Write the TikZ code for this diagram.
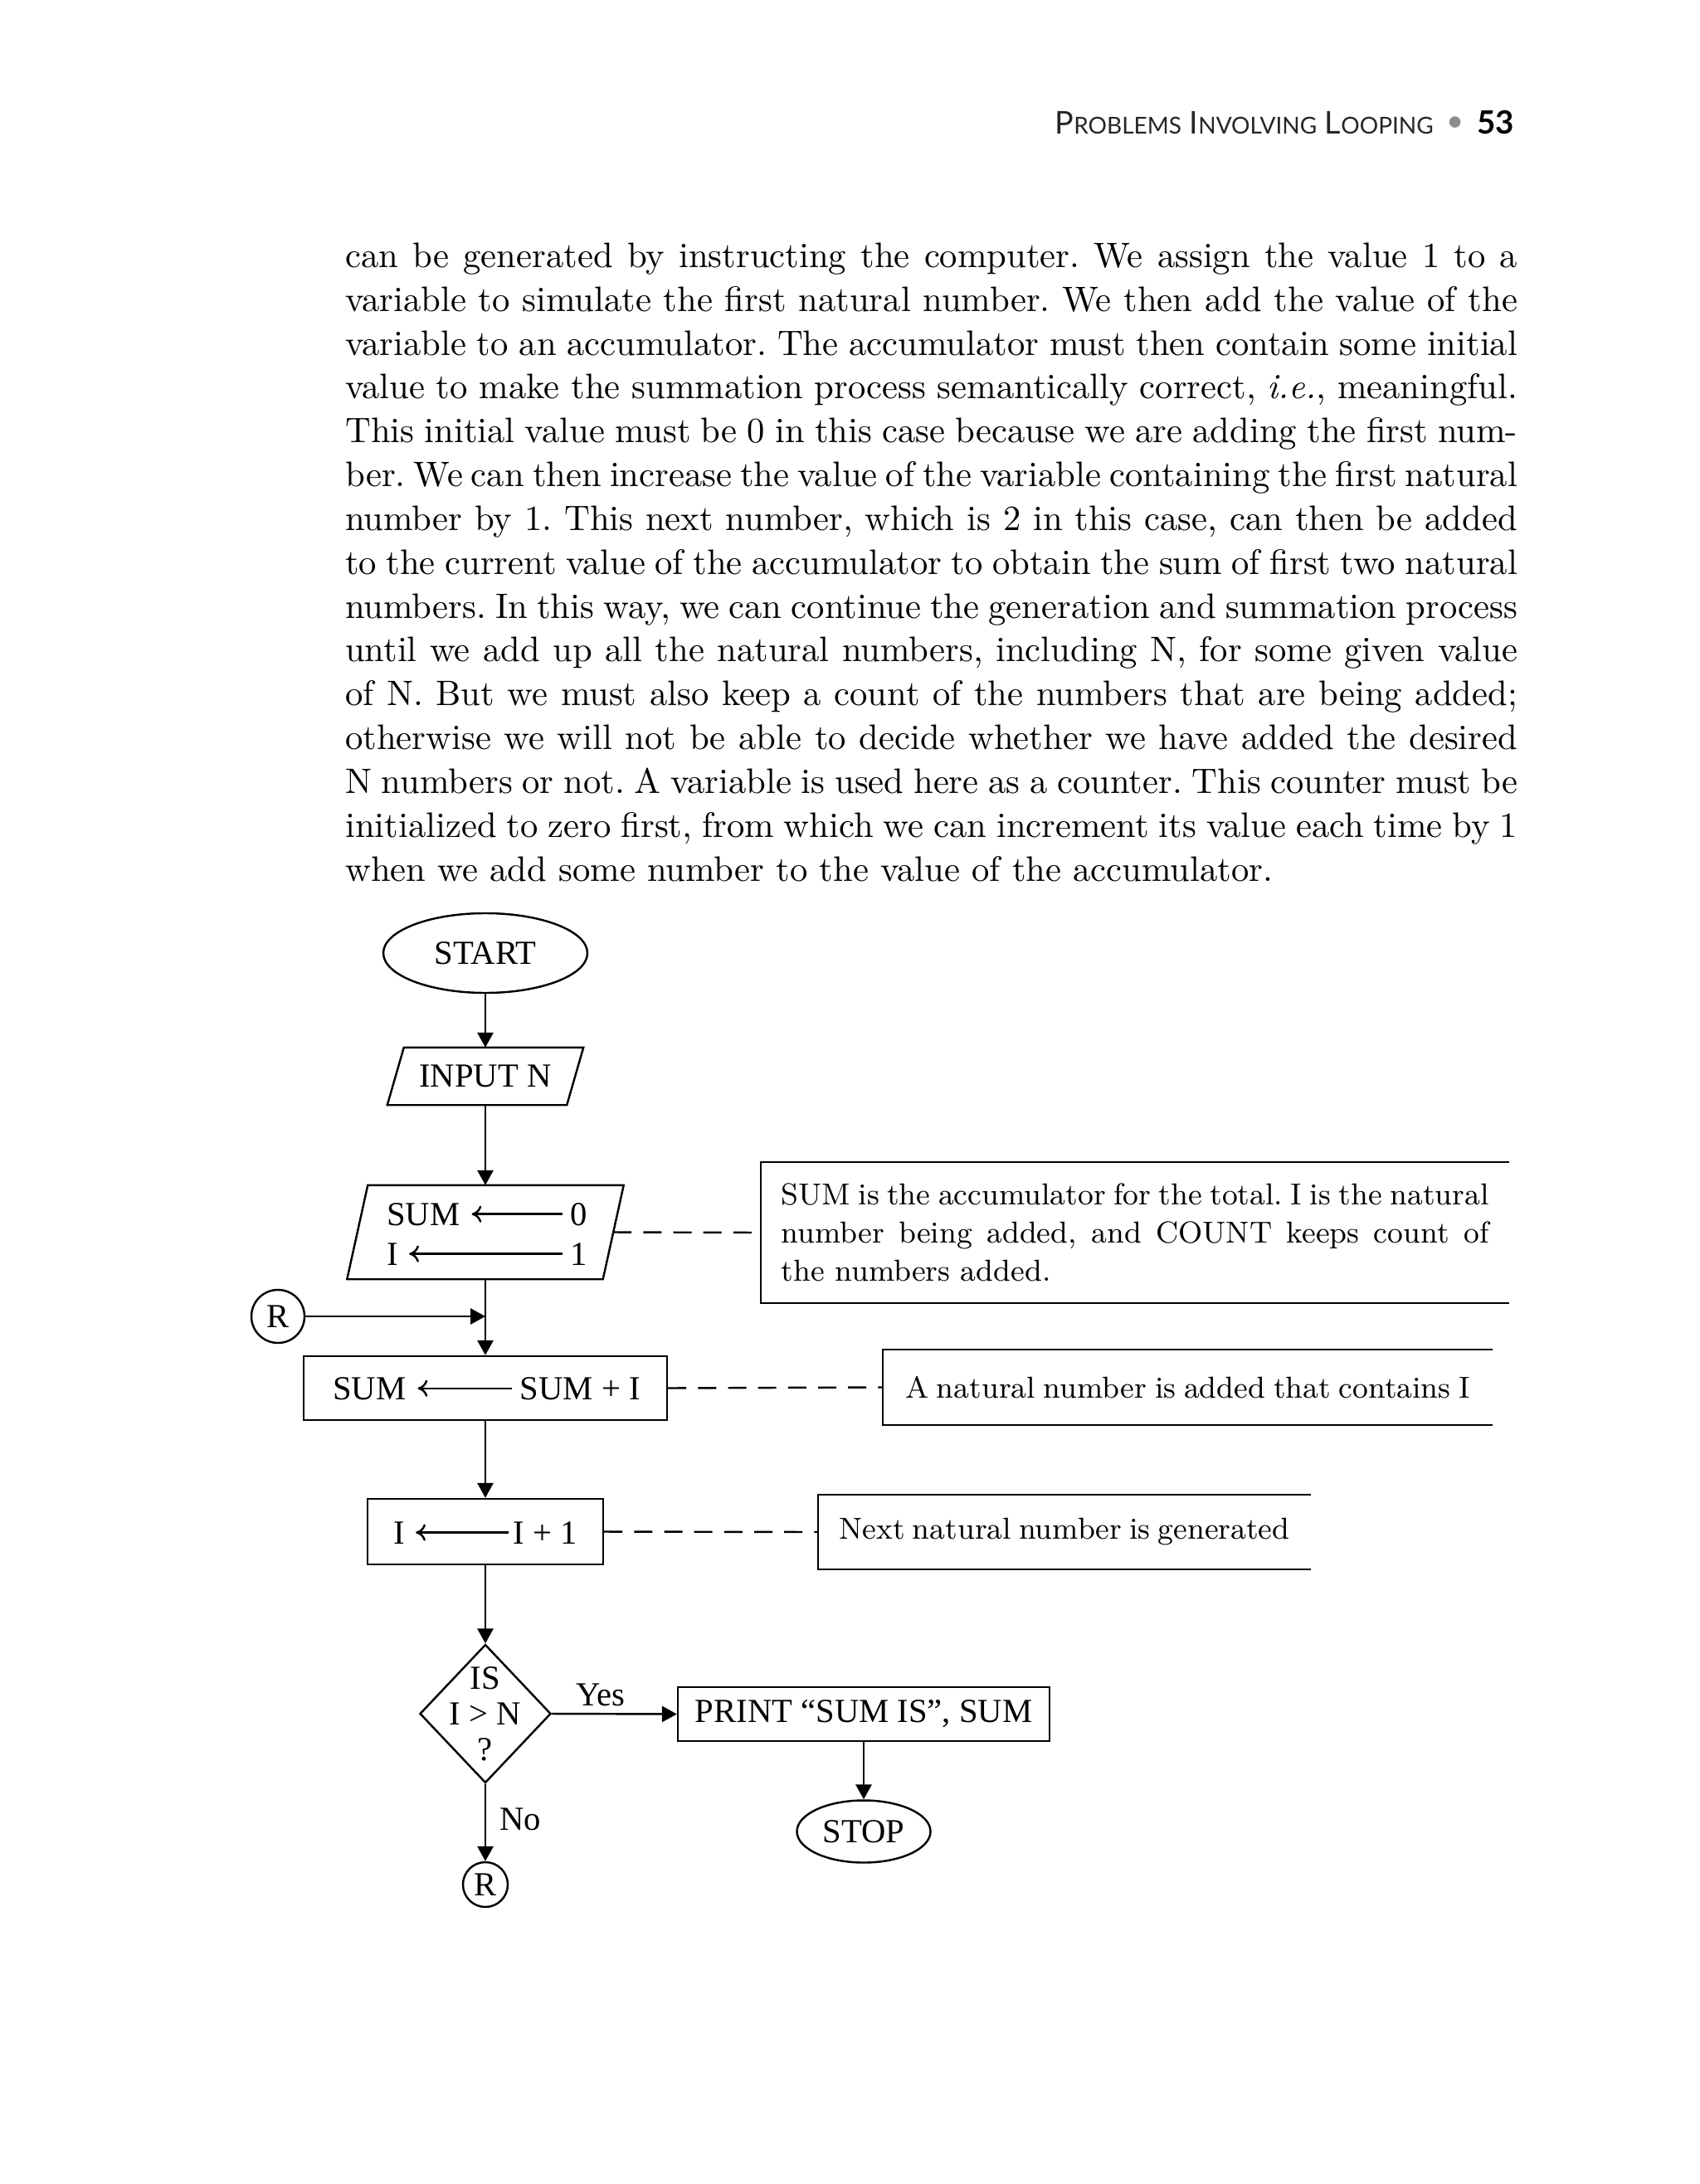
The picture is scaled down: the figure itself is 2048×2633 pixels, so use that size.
\documentclass[tikz,border=0pt]{standalone}
\usepackage{fontspec}
\newfontfamily\fcfont{Liberation Serif}
\newfontfamily\hdfont{Lato}
\usetikzlibrary{arrows.meta,shapes.geometric,calc}
\newcommand\jline[1]{\hbox to\hsize{#1}}
\newcommand\lline[1]{\hbox{#1}}
\def\pxu{0.24609pt}
\frenchspacing
\begin{document}
\begin{tikzpicture}[x=0.24609pt,y=-0.24609pt,line width=0.6pt,
  fc/.style={font=\fcfont\fontsize{10}{12}\selectfont},
  txt/.style={fc,inner sep=0},
  arr/.style={-{Triangle[length=4.4pt,width=4.7pt]}},
  sarr/.style={-{Computer Modern Rightarrow[length=2.9pt,width=5pt]}},
  dsh/.style={dash pattern=on 5.4pt off 3.5pt},
  term/.style={ellipse,draw,inner sep=0,fc},
  proc/.style={rectangle,draw,inner sep=0,fc},
  conn/.style={circle,draw,inner sep=0,fc},
  annot/.style={rectangle,inner sep=0,font=\fontsize{9}{11.3}\selectfont}]
\useasboundingbox (0,0) rectangle (2048,2633);
\fill[white] (0,0) rectangle (2048,2633);

% header
\node[anchor=base east,inner sep=0,text=black!85,font=\hdfont\fontsize{9.3}{11}\selectfont] (hdr) at (1729,162)
  {P{\fontsize{6.9}{8}\selectfont ROBLEMS} I{\fontsize{6.9}{8}\selectfont NVOLVING} L{\fontsize{6.9}{8}\selectfont OOPING}};
\node[inner sep=0,text=black!45,font=\hdfont\fontsize{9}{12}\selectfont] (bul) at (1754,150) {•};
\node[anchor=base east,inner sep=0,font=\hdfont\bfseries\fontsize{9.5}{12}\selectfont] (pg) at (1826,162) {53};

% body text
\node[anchor=base west,inner sep=0,font=\fontsize{10.5}{13}\selectfont] (body) at (415,1062) {\vbox{\hsize=347.7pt\baselineskip=13pt
\jline{can be generated by instructing the computer. We assign the value 1 to a}
\jline{variable to simulate the first natural number. We then add the value of the}
\jline{variable to an accumulator. The accumulator must then contain some initial}
\jline{value to make the summation process semantically correct, \textit{i.e.}, meaningful.}
\jline{This initial value must be 0 in this case because we are adding the first num-}
\jline{ber. We can then increase the value of the variable containing the first natural}
\jline{number by 1. This next number, which is 2 in this case, can then be added}
\jline{to the current value of the accumulator to obtain the sum of first two natural}
\jline{numbers. In this way, we can continue the generation and summation process}
\jline{until we add up all the natural numbers, including N, for some given value}
\jline{of N. But we must also keep a count of the numbers that are being added;}
\jline{otherwise we will not be able to decide whether we have added the desired}
\jline{N numbers or not. A variable is used here as a counter. This counter must be}
\jline{initialized to zero first, from which we can increment its value each time by 1}
\lline{when we add some number to the value of the accumulator.}}};

% flowchart
\node[term,minimum width={246*\pxu},minimum height={96*\pxu}] (start) at (585,1149) {START};

\node[txt,minimum width={234*\pxu},minimum height={67*\pxu}] (input) at (585,1297.5) {INPUT N};
\draw ($(input.north west)+(20,0)$) -- (input.north east) -- ($(input.south east)-(20,0)$) -- (input.south west) -- cycle;

\node[inner sep=0,minimum width={331*\pxu},minimum height={111*\pxu}] (init) at (585,1485.5) {};
\draw ($(init.north west)+(25,0)$) -- (init.north east) -- ($(init.south east)-(25,0)$) -- (init.south west) -- cycle;
\node[txt,anchor=base west] (s0) at (465,1477) {SUM};
\node[txt,anchor=base east] (v0) at (709,1477) {0};
\node[txt,anchor=base west] (s1) at (465,1525) {I};
\node[txt,anchor=base east] (v1) at (709,1525) {1};
\draw[sarr,shorten <=2pt,shorten >=3.2pt] (v0.west) -- (s0.east |- v0.west);
\draw[sarr,shorten <=2pt,shorten >=3pt] (v1.west) -- (s1.east |- v1.west);

\node[conn,minimum size={64*\pxu}] (rl) at (335,1587) {R};
\coordinate (join) at (585,1587);

\node[proc,minimum width={438*\pxu},minimum height={77*\pxu}] (sumbox) at (585,1673.5) {};
\node[txt,anchor=base west] (s2) at (400,1687) {SUM};
\node[txt,anchor=base east] (v2) at (773,1687) {SUM + I};
\draw[sarr,shorten <=2.2pt,shorten >=3.2pt] (v2.west) -- (s2.east |- v2.west);

\node[proc,minimum width={284*\pxu},minimum height={79*\pxu}] (incbox) at (585,1846.5) {};
\node[txt,anchor=base west] (s3) at (473,1861) {I};
\node[txt,anchor=base east] (v3) at (697,1861) {I + 1};
\draw[sarr,shorten <=1.2pt,shorten >=3pt] (v3.west) -- (s3.east |- v3.west);

\node[diamond,draw,inner sep=0,minimum width={158*\pxu},minimum height={167*\pxu}] (dec) at (585,2066) {};
\node[fc,inner sep=0,align=center,font=\fcfont\fontsize{10}{10.6}\selectfont] (dect) at (585,2066) {IS\\I > N\\?};

\node[proc,minimum width={448*\pxu},minimum height={65*\pxu}] (print) at (1041,2066.5) {PRINT “SUM IS”, SUM};
\node[term,minimum width={161*\pxu},minimum height={75*\pxu}] (stop) at (1041,2208) {STOP};
\node[conn,minimum size={54*\pxu}] (rb) at (585,2272) {R};

\node[txt] (yes) at (724,2043) {Yes};
\node[txt] (no) at (627,2193) {No};

% connectors
\draw[arr] (start.south) -- (start.south |- input.north);
\draw[arr] (input.south) -- (input.south |- init.north);
\draw[arr] (init.south) -- (init.south |- sumbox.north);
\draw[arr] (rl.east) -- (join);
\draw[arr] (sumbox.south) -- (sumbox.south |- incbox.north);
\draw[arr] (incbox.south) -- (dec.north);
\draw[arr] (dec.east) -- (print.west);
\draw[arr] (print.south) -- (stop.north);
\draw[arr] (dec.south) -- (rb.north);

% annotations
\node[annot,minimum width={900*\pxu},minimum height={168*\pxu},inner xsep={23.5*\pxu}] (n1) at (1368,1486)
  {\vbox{\hsize=209.92pt\baselineskip=11.3pt
  \jline{SUM is the accumulator for the total. I is the natural}
  \jline{number being added, and COUNT keeps count of}
  \lline{the numbers added.}}};
\draw (n1.north east) -- (n1.north west) -- (n1.south west) -- (n1.south east);

\node[annot,minimum width={733*\pxu},minimum height={89*\pxu},inner xsep={26*\pxu}] (n2) at (1431.5,1672.5)
  {\hbox to 167.59pt{A natural number is added that contains I\hfil}};
\draw (n2.north east) -- (n2.north west) -- (n2.south west) -- (n2.south east);

\node[annot,minimum width={592*\pxu},minimum height={88*\pxu},inner xsep={24.5*\pxu}] (n3) at (1283,1847)
  {\hbox to 133.63pt{Next natural number is generated\hfil}};
\draw (n3.north east) -- (n3.north west) -- (n3.south west) -- (n3.south east);

\draw[dsh] ($(init.east)-(12.5,0)$) -- (n1.west);
\draw[dsh] (sumbox.east) -- (n2.west);
\draw[dsh] (incbox.east) -- (n3.west);
\end{tikzpicture}
\end{document}
